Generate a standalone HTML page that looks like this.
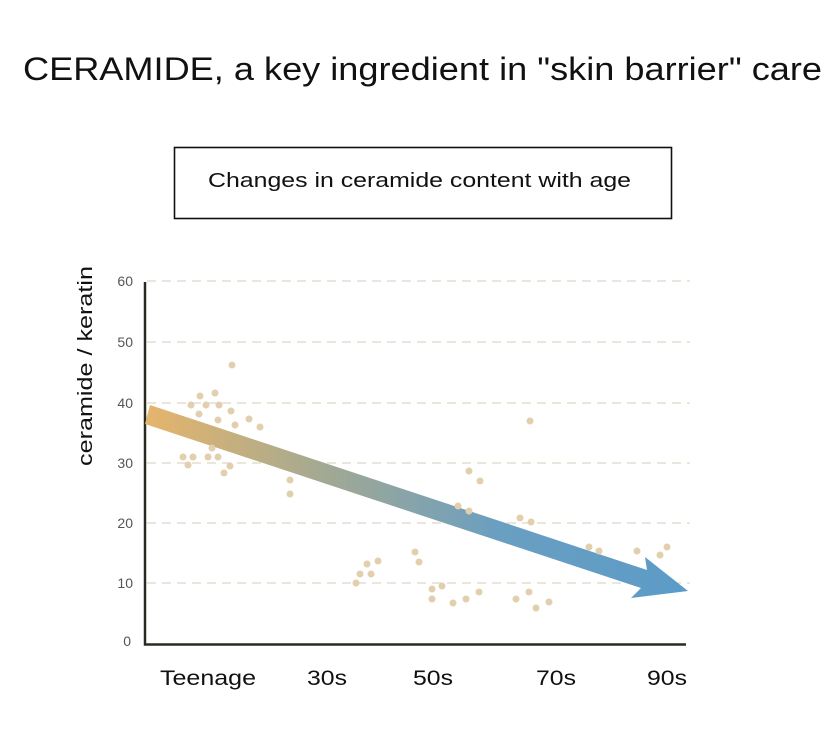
<!DOCTYPE html>
<html><head><meta charset="utf-8"><style>
body{margin:0;background:#fff;width:827px;height:732px;overflow:hidden;font-family:"Liberation Sans","NanumGothic",sans-serif;}
</style></head><body>
<svg width="827" height="732" xmlns="http://www.w3.org/2000/svg" style="position:absolute;left:0;top:0">
<defs>
<linearGradient id="g" x1="145" y1="0" x2="688" y2="0" gradientUnits="userSpaceOnUse">
<stop offset="0" stop-color="#e6b56b"/>
<stop offset="0.35" stop-color="#9fa895"/>
<stop offset="0.65" stop-color="#6a9fc1"/>
<stop offset="1" stop-color="#5b9bc8"/>
</linearGradient>
</defs>
<text x="23" y="80" font-size="32" fill="#111" textLength="799" lengthAdjust="spacingAndGlyphs">CERAMIDE, a key ingredient in "skin barrier" care</text>
<rect x="174.5" y="147.5" width="497" height="71" fill="#fff" stroke="#111" stroke-width="1.6"/>
<text x="208" y="187" font-size="20" fill="#111" textLength="423" lengthAdjust="spacingAndGlyphs">Changes in ceramide content with age</text>
<g stroke="#e3ddd0" stroke-width="1.4" stroke-dasharray="9,6">
<line x1="147" y1="281" x2="690" y2="281"/><line x1="147" y1="342" x2="690" y2="342"/>
<line x1="147" y1="403" x2="690" y2="403"/><line x1="147" y1="463" x2="690" y2="463"/>
<line x1="147" y1="523" x2="690" y2="523"/><line x1="147" y1="583" x2="690" y2="583"/>
</g>
<g font-size="14" fill="#555" text-anchor="end">
<text x="133" y="286">60</text><text x="133" y="347">50</text><text x="133" y="408">40</text>
<text x="133" y="468">30</text><text x="133" y="528">20</text><text x="133" y="588">10</text><text x="131" y="646">0</text>
</g>
<path d="M145 282 V644.5 H686" fill="none" stroke="#2b2a22" stroke-width="2.5"/>
<text transform="translate(92,366) rotate(-90)" text-anchor="middle" font-size="20" fill="#111" textLength="200" lengthAdjust="spacingAndGlyphs">ceramide / keratin</text>
<g font-size="21" fill="#111">
<text x="160" y="685" textLength="96" lengthAdjust="spacingAndGlyphs">Teenage</text><text x="307" y="685" textLength="40" lengthAdjust="spacingAndGlyphs">30s</text><text x="413" y="685" textLength="40" lengthAdjust="spacingAndGlyphs">50s</text><text x="536" y="685" textLength="40" lengthAdjust="spacingAndGlyphs">70s</text><text x="647" y="685" textLength="40" lengthAdjust="spacingAndGlyphs">90s</text>
</g>
<polygon points="150,405 647,570 645,557 688,591 631,598 641,588 145,424" fill="url(#g)"/>
<g fill="#e2cfae">
<circle cx="183" cy="457" r="3.5"/><circle cx="188" cy="465" r="3.5"/><circle cx="193" cy="457" r="3.5"/><circle cx="191" cy="405" r="3.5"/><circle cx="200" cy="396" r="3.5"/><circle cx="199" cy="414" r="3.5"/><circle cx="206" cy="405" r="3.5"/><circle cx="208" cy="457" r="3.5"/><circle cx="212" cy="448" r="3.5"/><circle cx="215" cy="393" r="3.5"/><circle cx="218" cy="420" r="3.5"/><circle cx="219" cy="405" r="3.5"/><circle cx="218" cy="457" r="3.5"/><circle cx="224" cy="473" r="3.5"/><circle cx="230" cy="466" r="3.5"/><circle cx="232" cy="365" r="3.5"/><circle cx="231" cy="411" r="3.5"/><circle cx="235" cy="425" r="3.5"/><circle cx="249" cy="419" r="3.5"/><circle cx="260" cy="427" r="3.5"/><circle cx="290" cy="480" r="3.5"/><circle cx="290" cy="494" r="3.5"/>
<circle cx="356" cy="583" r="3.5"/><circle cx="360" cy="574" r="3.5"/><circle cx="367" cy="564" r="3.5"/><circle cx="371" cy="574" r="3.5"/><circle cx="378" cy="561" r="3.5"/>
<circle cx="415" cy="552" r="3.5"/><circle cx="419" cy="562" r="3.5"/><circle cx="432" cy="589" r="3.5"/><circle cx="432" cy="599" r="3.5"/><circle cx="442" cy="586" r="3.5"/><circle cx="453" cy="603" r="3.5"/><circle cx="466" cy="599" r="3.5"/><circle cx="479" cy="592" r="3.5"/><circle cx="458" cy="506" r="3.5"/><circle cx="469" cy="471" r="3.5"/><circle cx="469" cy="511" r="3.5"/><circle cx="480" cy="481" r="3.5"/>
<circle cx="520" cy="518" r="3.5"/><circle cx="531" cy="522" r="3.5"/><circle cx="530" cy="421" r="3.5"/><circle cx="516" cy="599" r="3.5"/><circle cx="529" cy="592" r="3.5"/><circle cx="536" cy="608" r="3.5"/><circle cx="549" cy="602" r="3.5"/>
<circle cx="589" cy="547" r="3.5"/><circle cx="599" cy="551" r="3.5"/><circle cx="637" cy="551" r="3.5"/><circle cx="660" cy="555" r="3.5"/><circle cx="667" cy="547" r="3.5"/>
</g>
</svg>
</body></html>
